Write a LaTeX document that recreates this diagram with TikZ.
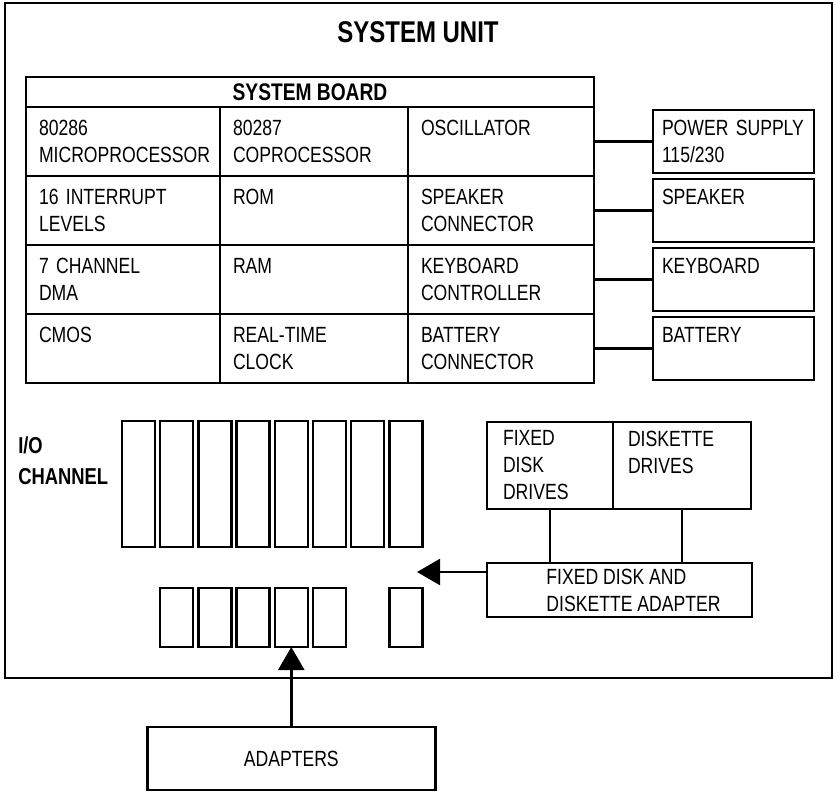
\documentclass[tikz,border=0pt]{standalone}
\usepackage{fontspec}
\setmainfont{Liberation Sans}
\newfontfamily\narrowfont[FakeStretch=0.8]{Liberation Sans}
\usepackage{tikz}
\usetikzlibrary{arrows.meta,positioning}
\hyphenpenalty=10000
\exhyphenpenalty=10000
\newcommand{\cellfont}{\narrowfont\fontsize{22}{27}\selectfont}
\newcommand{\headfont}{\narrowfont\bfseries\fontsize{24}{30}\selectfont}
\newcommand{\unitfont}{\narrowfont\bfseries\fontsize{30}{36}\selectfont}
\newcommand{\iofont}{\narrowfont\bfseries\fontsize{23}{31}\selectfont}

\begin{document}
\begin{tikzpicture}[
  x=1pt, y=-1pt, line width=2.5pt,
  cellbox/.style={draw, outer sep=0pt, minimum height=69pt, text width=#1, inner xsep=13pt, inner ysep=0pt, align=left, font=\cellfont},
  sidebox/.style={draw, outer sep=0pt, minimum height=63pt, text width=143pt, inner xsep=9pt, inner ysep=0pt, align=left, font=\cellfont},
  slotbox/.style={draw, outer sep=0pt, inner sep=0pt, minimum width=33pt, minimum height=126pt},
  cardbox/.style={slotbox, minimum height=59pt},
  arr/.style={-{Triangle[width=26pt,length=23pt]}, line width=2.5pt}
]
  \useasboundingbox (0,0) rectangle (835,792);
  \draw (5,3) rectangle (832,678);
  \node[font=\unitfont, anchor=base] (title) at (418,43) {SYSTEM UNIT};

  % system board
  \node[draw, outer sep=0pt, inner sep=0pt, minimum width=568pt, minimum height=30pt, font=\headfont, anchor=north west] (board) at (26,77) {SYSTEM BOARD};
  \node[cellbox=168pt, anchor=north west] (mpu) at (board.south west) {80286\\MICROPROCESSOR};
  \node[cellbox=162pt, right=0pt of mpu] (npx) {80287\\COPROCESSOR};
  \node[cellbox=160pt, right=0pt of npx] (osc) {OSCILLATOR\\\phantom{X}};
  \node[cellbox=168pt, below=0pt of mpu] (irq) {16 INTERRUPT\\LEVELS};
  \node[cellbox=162pt, right=0pt of irq] (rom) {ROM\\\phantom{X}};
  \node[cellbox=160pt, right=0pt of rom] (spk) {SPEAKER\\CONNECTOR};
  \node[cellbox=168pt, below=0pt of irq] (dma) {7 CHANNEL\\DMA};
  \node[cellbox=162pt, right=0pt of dma] (ram) {RAM\\\phantom{X}};
  \node[cellbox=160pt, right=0pt of ram] (kbc) {KEYBOARD\\CONTROLLER};
  \node[cellbox=168pt, below=0pt of dma] (cmos) {CMOS\\\phantom{X}};
  \node[cellbox=162pt, right=0pt of cmos] (rtc) {REAL-TIME\\CLOCK};
  \node[cellbox=160pt, right=0pt of rtc] (batc) {BATTERY\\CONNECTOR};

  % outside the board
  \node[sidebox, right=59pt of osc] (psu) {POWER~SUPPLY\\115/230};
  \node[sidebox, right=59pt of spk] (spkr) {SPEAKER\\\phantom{X}};
  \node[sidebox, right=59pt of kbc] (kbd) {KEYBOARD\\\phantom{X}};
  \node[sidebox, right=59pt of batc] (bat) {BATTERY\\\phantom{X}};
  \draw (osc) -- (psu);
  \draw (spk) -- (spkr);
  \draw (kbc) -- (kbd);
  \draw (batc) -- (bat);

  % I/O channel slots
  \node[font=\iofont, align=left, anchor=north west, inner sep=0pt] (io) at (17,436) {I/O\\CHANNEL};
  \foreach \i in {1,...,8}
    \node[slotbox] (slot\i) at ({138.5+(\i-1)*38.2}, 484) {};
  \foreach \i in {2,3,4,5,6,8}
    \node[cardbox] (card\i) at (slot\i |- 0,617.5) {};

  % drives
  \node[draw, outer sep=0pt, minimum height=87pt, text width=94pt, inner xsep=16pt, inner ysep=0pt, align=left, font=\cellfont, anchor=north west] (fdd) at (487,422) {FIXED\\DISK\\DRIVES};
  \node[draw, outer sep=0pt, minimum height=87pt, text width=108pt, inner xsep=15pt, inner ysep=0pt, align=left, font=\cellfont, right=0pt of fdd] (dsk) {DISKETTE\\DRIVES\\\phantom{X}};
  \node[draw, outer sep=0pt, minimum width=265pt, minimum height=54pt, inner sep=0pt, align=left, font=\cellfont, below=54pt of fdd.south west, anchor=north west] (fda) {\hspace*{28pt}FIXED DISK AND\\\hspace*{28pt}DISKETTE ADAPTER};
  \draw (fdd.south) -- (fdd.south |- fda.north);
  \draw (dsk.south) -- (dsk.south |- fda.north);
  \coordinate (fdtip) at (417,572);
  \draw[arr] (fda.west |- fdtip) -- (fdtip);

  % adapters
  \node[draw, outer sep=0pt, minimum width=288pt, minimum height=63pt, font=\cellfont, below=80pt of card5] (adapters) {ADAPTERS};
  \draw[arr] (adapters) -- (card5);
\end{tikzpicture}
\end{document}
